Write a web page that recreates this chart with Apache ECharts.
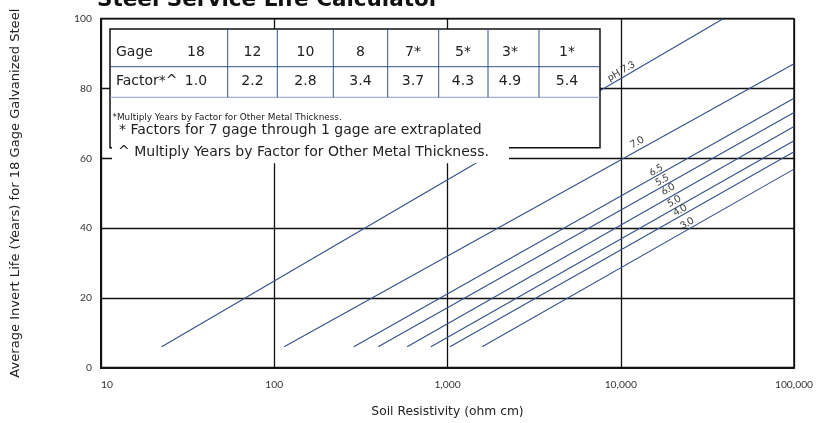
<!DOCTYPE html>
<html>
<head>
<meta charset="utf-8">
<script src="https://cdn.jsdelivr.net/npm/echarts@6/dist/echarts.min.js"></script>
<style>html,body{margin:0;padding:0;background:#fff;}#c{width:819px;height:423px;}</style>
</head>
<body>
<div id="c"></div>
<script>
// ---- data ----
const phLabels = ['pH 7.3', '7.0', '6.5', '5.5', '6.0', '5.0', '4.0', '3.0'];
const startResistivity = [22.4, 114, 288, 398, 585, 802, 1033, 1585];
const startLife = [6, 6, 6, 6, 6, 6, 6, 6];
const endResistivity = [39000, 100000, 100000, 100000, 100000, 100000, 100000, 100000];
const endLife = [100, 87.1, 77.2, 73.1, 69.1, 65.0, 61.9, 56.9];
const gages = ['18', '12', '10', '8', '7*', '5*', '3*', '1*'];
const factors = ['1.0', '2.2', '2.8', '3.4', '3.7', '4.3', '4.9', '5.4'];
const xTickLabels = ['10', '100', '1,000', '10,000', '100,000'];
const yTickLabels = ['0', '20', '40', '60', '80', '100'];

const FONT = '"DejaVu Sans"';
const TICKFONT = 'Lato';
const NAVY = '#34508c';
const chart = echarts.init(document.getElementById('c'));

const series = phLabels.map((name, i) => ({
  type: 'line',
  name: name,
  data: [[startResistivity[i], startLife[i]], [endResistivity[i], endLife[i]]],
  symbol: 'none',
  lineStyle: { color: NAVY, width: 1.1 },
  silent: true,
  animation: false,
  z: 3
}));

// table layout (annotation)
const boxL = 110, boxT = 29, boxR = 600, boxB = 147.7;
const rowSep = 66.7, tableB = 97.3;
const colX = [227.7, 277.3, 333.3, 387.7, 438.7, 488, 539];
const colCenters = [196, 252.5, 305.5, 360.5, 413, 463, 510, 567];
const TF = '14px ' + FONT;
const g = [];
g.push({ type: 'rect', shape: { x: boxL, y: boxT, width: boxR - boxL, height: boxB - boxT },
  style: { fill: '#fff', stroke: '#111', lineWidth: 1.5 }, z: 10 });
g.push({ type: 'line', shape: { x1: boxL, y1: rowSep, x2: boxR, y2: rowSep }, style: { stroke: NAVY, lineWidth: 1 }, z: 11 });
g.push({ type: 'line', shape: { x1: boxL, y1: tableB, x2: boxR, y2: tableB }, style: { stroke: '#8d9cc2', lineWidth: 1 }, z: 11 });
colX.forEach(x => g.push({ type: 'line', shape: { x1: x, y1: boxT, x2: x, y2: tableB }, style: { stroke: NAVY, lineWidth: 1 }, z: 11 }));
g.push({ type: 'text', x: 116, y: 52.5, style: { text: 'Gage', font: TF, fill: '#222', textAlign: 'left', textVerticalAlign: 'middle' }, z: 12 });
g.push({ type: 'text', x: 116, y: 81.5, style: { text: 'Factor*^', font: TF, fill: '#222', textAlign: 'left', textVerticalAlign: 'middle' }, z: 12 });
gages.forEach((t, i) => g.push({ type: 'text', x: colCenters[i], y: 52.5, style: { text: t, font: TF, fill: '#222', textAlign: 'center', textVerticalAlign: 'middle' }, z: 12 }));
factors.forEach((t, i) => g.push({ type: 'text', x: colCenters[i], y: 81.5, style: { text: t, font: TF, fill: '#222', textAlign: 'center', textVerticalAlign: 'middle' }, z: 12 }));
g.push({ type: 'text', x: 112.5, y: 117.5, style: { text: '*Multiply Years by Factor for Other Metal Thickness.', font: '8.9px ' + FONT, fill: '#222', textAlign: 'left', textVerticalAlign: 'middle' }, z: 12 });
g.push({ type: 'text', x: 119, y: 130.5, style: { text: '* Factors for 7 gage through 1 gage are extraplated', font: TF, fill: '#222', textAlign: 'left', textVerticalAlign: 'middle' }, z: 12 });
g.push({ type: 'rect', shape: { x: 112, y: 146.5, width: 397, height: 16.8 }, style: { fill: '#fff' }, z: 12 });
g.push({ type: 'text', x: 118, y: 152, style: { text: '^ Multiply Years by Factor for Other Metal Thickness.', font: TF, fill: '#222', textAlign: 'left', textVerticalAlign: 'middle' }, z: 13 });
// title (partly cut at top)
g.push({ type: 'text', x: 97, y: 0, style: { text: 'Steel Service Life Calculator', font: 'bold 21.5px ' + FONT, fill: '#111', textAlign: 'left', textVerticalAlign: 'middle' }, z: 14 });
// line labels
const labelPos = [[621, 71], [637, 142], [656, 170], [662, 180], [668, 189], [674, 201], [680, 210], [687, 223]];
phLabels.forEach((t, i) => g.push({ type: 'text', x: labelPos[i][0], y: labelPos[i][1], rotation: 0.52,
  style: { text: t, font: '10px ' + TICKFONT, fill: '#333', textAlign: 'center', textVerticalAlign: 'middle' }, z: 14 }));

chart.setOption({
  animation: false,
  backgroundColor: '#fff',
  grid: { left: 101, right: 25, top: 18.7, bottom: 55.3, show: true, borderColor: '#111', borderWidth: 1.5, backgroundColor: 'transparent' },
  xAxis: {
    type: 'log', logBase: 10, min: 10, max: 100000,
    name: 'Soil Resistivity (ohm cm)', nameLocation: 'middle', nameGap: 38,
    nameTextStyle: { fontFamily: FONT, fontSize: 12.3, color: '#222' },
    axisLine: { show: true, lineStyle: { color: '#111', width: 2 } },
    axisTick: { show: false },
    splitLine: { show: true, lineStyle: { color: '#111', width: 1.3 } },
    minorSplitLine: { show: false },
    axisLabel: { fontFamily: TICKFONT, fontSize: 10.3, color: '#333', margin: 12, alignMinLabel: 'left',
      formatter: v => xTickLabels[Math.round(Math.log10(v)) - 1] }
  },
  yAxis: {
    type: 'value', min: 0, max: 100, interval: 20,
    name: 'Average Invert Life (Years) for 18 Gage Galvanized Steel', nameLocation: 'middle', nameGap: 79,
    nameTextStyle: { fontFamily: FONT, fontSize: 13.1, color: '#222' },
    axisLine: { show: true, lineStyle: { color: '#111', width: 2 } },
    axisTick: { show: false },
    splitLine: { show: true, lineStyle: { color: '#111', width: 1.3 } },
    axisLabel: { fontFamily: TICKFONT, fontSize: 10.3, color: '#333', margin: 9, padding: [0, 0, 4, 0],
      formatter: v => yTickLabels[Math.round(v / 20)] }
  },
  series: series,
  graphic: g
});
</script>
</body>
</html>
